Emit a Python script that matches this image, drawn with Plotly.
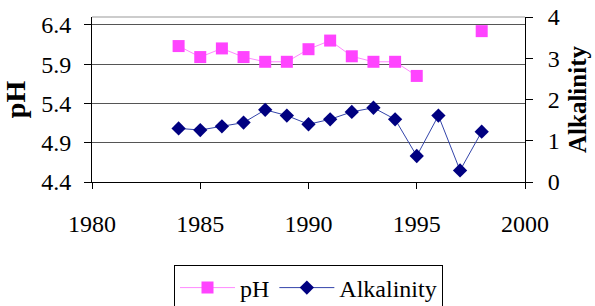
import plotly.graph_objects as go

years = [1984, 1985, 1986, 1987, 1988, 1989, 1990, 1991, 1992, 1993, 1994, 1995, 1996, 1997, 1998]
ph = [6.13, 5.99, 6.10, 5.99, 5.93, 5.93, 6.09, 6.20, 6.00, 5.93, 5.93, 5.75, None, None, 6.32]
alkalinity = [1.30, 1.26, 1.35, 1.44, 1.75, 1.61, 1.40, 1.52, 1.70, 1.80, 1.52, 0.63, 1.61, 0.28, 1.22]

x_ticks = [1980, 1985, 1990, 1995, 2000]
ph_ticks = [4.4, 4.9, 5.4, 5.9, 6.4]
alk_ticks = [0, 1, 2, 3, 4]

FONT = "Liberation Serif"
FS = 24

fig = go.Figure()
fig.add_trace(go.Scatter(
    x=years, y=ph, name="pH", mode="lines+markers",
    line=dict(color="#FF88FF", width=1),
    marker=dict(symbol="square", size=12, color="#FF44FF"),
    connectgaps=False, yaxis="y"))
fig.add_trace(go.Scatter(
    x=years, y=alkalinity, name="Alkalinity", mode="lines+markers",
    line=dict(color="#3344AA", width=1),
    marker=dict(symbol="diamond", size=11, color="#000080"),
    yaxis="y2"))

fig.update_layout(
    width=595, height=306,
    margin=dict(l=92, r=70, t=17, b=124, autoexpand=False),
    paper_bgcolor="white", plot_bgcolor="white",
    font=dict(family=FONT, size=FS, color="black"),
    showlegend=True,
    legend=dict(orientation="h", x=0.5, xanchor="center", y=-0.50, yanchor="top",
                bordercolor="black", borderwidth=1, font=dict(size=FS, family=FONT, color="black"),
                itemwidth=55, tracegroupgap=0),
    xaxis=dict(range=[1980, 2000], tickvals=x_ticks, ticktext=[str(v) for v in x_ticks],
               ticks="outside", ticklen=6,
               tickcolor="black", showline=True, linecolor="black", linewidth=1,
               showgrid=False, zeroline=False, ticklabelstandoff=14,
               tickfont=dict(size=FS, family=FONT, color="black", weight="normal")),
    yaxis=dict(range=[4.4, 6.5], tickvals=ph_ticks, ticktext=[f"{v:.1f}" for v in ph_ticks],
               ticks="outside", ticklen=7, tickcolor="black", showline=True,
               linecolor="black", linewidth=1, showgrid=True, gridcolor="#555555",
               gridwidth=1, zeroline=False, ticklabelstandoff=8,
               title=dict(text="pH", font=dict(size=28, family=FONT, color="black", weight="bold"), standoff=10),
               tickfont=dict(size=FS, family=FONT, color="black", weight="normal")),
    yaxis2=dict(range=[0, 4.0], tickvals=alk_ticks, ticktext=[str(v) for v in alk_ticks],
                overlaying="y", side="right",
                ticks="outside", ticklen=7, tickcolor="black", showline=True,
                linecolor="black", linewidth=1, showgrid=False, zeroline=False,
                ticklabelstandoff=10,
                title=dict(text="Alkalinity", font=dict(size=25, family=FONT, color="black", weight="bold"), standoff=9),
                tickfont=dict(size=FS, family=FONT, color="black", weight="normal")),
)
fig.add_shape(type="line", xref="paper", yref="paper", x0=0, x1=1, y0=1, y1=1,
              line=dict(color="#999999", width=1))

fig.write_html("out.html", config={"displayModeBar": False})

with open("out.html", "r", encoding="utf-8") as f:
    html = f.read()
html = html.replace("<body>", '<body style="margin:0;padding:0;overflow:hidden">', 1)
with open("out.html", "w", encoding="utf-8") as f:
    f.write(html)
